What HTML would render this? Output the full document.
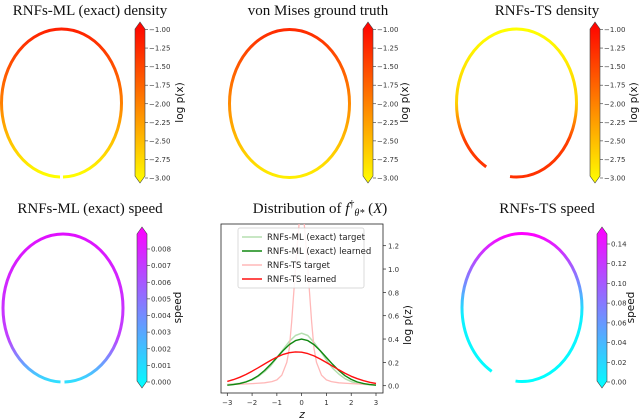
<!DOCTYPE html>
<html><head><meta charset="utf-8"><style>
body{margin:0;background:#fff}
svg{display:block}
.t{font-family:"Liberation Serif",serif;font-size:15px;fill:#111}
.k{font-family:"DejaVu Sans",sans-serif;font-size:7px;fill:#333}
.lab{font-family:"DejaVu Sans",sans-serif;font-size:10.5px;fill:#111}
.lg{font-family:"DejaVu Sans",sans-serif;font-size:8.5px;fill:#222}
</style></head><body>
<svg id="s" width="640" height="418" viewBox="0 0 640 418" xmlns="http://www.w3.org/2000/svg">
<defs>
<linearGradient id="autumn" x1="0" y1="1" x2="0" y2="0"><stop offset="0" stop-color="#ffff00"/><stop offset="1" stop-color="#ff0000"/></linearGradient>
<linearGradient id="cool" x1="0" y1="1" x2="0" y2="0"><stop offset="0" stop-color="#00ffff"/><stop offset="1" stop-color="#ff00ff"/></linearGradient>
<linearGradient id="e1" x1="0" y1="0" x2="0" y2="1"><stop offset="0" stop-color="#ff2000"/><stop offset="0.5" stop-color="#ff8000"/><stop offset="1" stop-color="#ffff00"/></linearGradient>
<linearGradient id="e2" x1="0" y1="0" x2="0" y2="1"><stop offset="0" stop-color="#ff2a00"/><stop offset="0.5" stop-color="#ff8a00"/><stop offset="1" stop-color="#ffee00"/></linearGradient>
<linearGradient id="e3" x1="0" y1="0" x2="0" y2="1"><stop offset="0" stop-color="#ffff00"/><stop offset="0.5" stop-color="#ffd000"/><stop offset="0.75" stop-color="#ff4000"/><stop offset="1" stop-color="#ff3000"/></linearGradient>
<linearGradient id="e4" x1="0" y1="0" x2="0" y2="1"><stop offset="0" stop-color="#e010ff"/><stop offset="0.7" stop-color="#c040ff"/><stop offset="1" stop-color="#30e0ff"/></linearGradient>
<linearGradient id="e5" x1="0" y1="0" x2="0" y2="1"><stop offset="0" stop-color="#ff00ff"/><stop offset="0.35" stop-color="#7090ff"/><stop offset="0.55" stop-color="#10f0ff"/><stop offset="1" stop-color="#00ffff"/></linearGradient>
<clipPath id="ax"><rect x="221" y="224" width="162" height="169"/></clipPath>
</defs>

<text class="t" x="90" y="15" text-anchor="middle">RNFs-ML (exact) density</text>
<text class="t" x="318" y="15" text-anchor="middle">von Mises ground truth</text>
<text class="t" x="547" y="15" text-anchor="middle">RNFs-TS density</text>
<text class="t" x="90" y="213" text-anchor="middle">RNFs-ML (exact) speed</text>
<text class="t" x="320" y="213" text-anchor="middle">Distribution of <tspan font-style="italic">f</tspan><tspan font-size="10" dy="-6">†</tspan><tspan font-size="10" font-style="italic" dy="9">θ*</tspan><tspan dy="-3"> (</tspan><tspan font-style="italic">X</tspan>)</text>
<text class="t" x="547" y="213" text-anchor="middle">RNFs-TS speed</text>

<ellipse cx="61.5" cy="103" rx="60" ry="74" fill="none" stroke="url(#e1)" stroke-width="3" stroke-dasharray="104 3 500"/>
<ellipse cx="289.5" cy="103.5" rx="60" ry="74" fill="none" stroke="url(#e2)" stroke-width="3"/>
<ellipse cx="516.5" cy="103" rx="60" ry="74" fill="none" stroke="url(#e3)" stroke-width="3" stroke-dasharray="112 26 500"/>
<ellipse cx="63" cy="308" rx="60" ry="74" fill="none" stroke="url(#e4)" stroke-width="3" stroke-dasharray="104 4 500"/>
<ellipse cx="522" cy="307.5" rx="60" ry="74" fill="none" stroke="url(#e5)" stroke-width="3" stroke-dasharray="112 26 500"/>

<g id="cbs"></g>
<g id="chart"></g>
</svg>
<script>
const NS="http://www.w3.org/2000/svg";
const svg=document.getElementById('s');
function mk(tag,attrs,parent){const e=document.createElementNS(NS,tag);for(const k in attrs)e.setAttribute(k,attrs[k]);(parent||svg).appendChild(e);return e;}

const densityTicks=["−1.00","−1.25","−1.50","−1.75","−2.00","−2.25","−2.50","−2.75","−3.00"];
const mlSpeedTicks=["0.008","0.007","0.006","0.005","0.004","0.003","0.002","0.001","0.000"];
const tsSpeedTicks=["0.14","0.12","0.10","0.08","0.06","0.04","0.02","0.00"];
const cbg=document.getElementById('cbs');
function colorbar(x,y0,y1,grad,ticks,tickTop,tickBot,label,lx,name){
  const g=mk('g',{},cbg);
  
  
  const w=10;
  mk('polygon',{points:`${x},${y0} ${x+w/2},${y0-7} ${x+w},${y0} ${x+w},${y1} ${x+w/2},${y1+7} ${x},${y1}`,fill:`url(#${grad})`,stroke:'#444','stroke-width':0.6},g);
  const n=ticks.length;
  ticks.forEach((t,i)=>{
    const y=tickTop+(tickBot-tickTop)*i/(n-1);
    mk('line',{x1:x+w,x2:x+w+3,y1:y,y2:y,stroke:'#333','stroke-width':0.6},g);
    const tx=mk('text',{x:x+w+4,y:y+2.5,class:'k'},g);tx.textContent=t;
  });
  const ly=(y0+y1)/2;
  const lt=mk('text',{x:lx,y:ly,class:'lab','text-anchor':'middle',transform:`rotate(-90 ${lx} ${ly})`},g);
  lt.textContent=label;
}
colorbar(135,29,176,'autumn',densityTicks,29.5,178,'log p(x)',183,'colorbar-ml-density');
colorbar(363,29,176,'autumn',densityTicks,29.5,178,'log p(x)',408,'colorbar-von-mises');
colorbar(590,29,176,'autumn',densityTicks,29.5,178,'log p(x)',637,'colorbar-ts-density');
colorbar(137,234,381,'cool',mlSpeedTicks,249,382,'speed',181,'colorbar-ml-speed');
colorbar(597,234,381,'cool',tsSpeedTicks,244,382,'speed',634,'colorbar-ts-speed');

// Line chart data
const zVals=[-3,-2.75,-2.5,-2.25,-2,-1.75,-1.5,-1.25,-1,-0.75,-0.5,-0.25,0,0.25,0.5,0.75,1,1.25,1.5,1.75,2,2.25,2.5,2.75,3];
const mlTarget=[0.01,0.015,0.02,0.035,0.05,0.08,0.12,0.17,0.24,0.31,0.38,0.43,0.45,0.43,0.37,0.3,0.22,0.15,0.1,0.06,0.035,0.02,0.012,0.008,0.005];
const mlLearned=[0.004,0.009,0.018,0.032,0.054,0.086,0.13,0.183,0.242,0.301,0.352,0.387,0.399,0.387,0.352,0.301,0.242,0.183,0.13,0.086,0.054,0.032,0.018,0.009,0.004];
const tsLearned=[0.037,0.052,0.072,0.096,0.124,0.154,0.186,0.217,0.245,0.268,0.283,0.29,0.287,0.275,0.255,0.229,0.199,0.167,0.136,0.107,0.081,0.06,0.043,0.029,0.02];
const tsTargetZ=[-3,-2.5,-2,-1.5,-1.2,-1,-0.8,-0.6,-0.5,-0.4,-0.3,-0.2,-0.1,0,0.1,0.2,0.3,0.4,0.5,0.6,0.8,1,1.2,1.5,2,2.5,3];
const tsTarget=[0.01,0.013,0.018,0.025,0.035,0.05,0.09,0.2,0.32,0.55,0.85,1.15,1.4,1.5,1.4,1.15,0.85,0.55,0.32,0.2,0.09,0.05,0.035,0.025,0.018,0.013,0.01];
const xTicks=[-3,-2,-1,0,1,2,3];
const yTicks=[0,0.2,0.4,0.6,0.8,1.0,1.2];

const ch=document.getElementById('chart');
const X=z=>227.3+(z+3)*(376-227.3)/6;
const Y=v=>385.7-v*(385.7-245.7)/1.2;
const frame=mk('rect',{x:221,y:224,width:162,height:169,fill:'none',stroke:'#222','stroke-width':0.8},ch);


xTicks.forEach(t=>{
  mk('line',{x1:X(t),x2:X(t),y1:393,y2:396,stroke:'#222','stroke-width':0.7},ch);
  const tx=mk('text',{x:X(t),y:405,class:'k','text-anchor':'middle','font-size':'8'},ch);
  
  
  tx.textContent=t<0?'−'+(-t):String(t);
});
yTicks.forEach(t=>{
  mk('line',{x1:383,x2:386,y1:Y(t),y2:Y(t),stroke:'#222','stroke-width':0.7},ch);
  const tx=mk('text',{x:388,y:Y(t)+3,class:'k','font-size':'8'},ch);
  
  
  tx.textContent=t.toFixed(1);
});
const xl=mk('text',{x:302,y:418,class:'lab','font-style':'italic','text-anchor':'middle'},ch);


xl.textContent='z';
const yl=mk('text',{x:411,y:325,class:'lab','text-anchor':'middle',transform:'rotate(-90 411 325)'},ch);


yl.textContent='log p(z)';

function line(xs,ys,color,width,name){
  const d=xs.map((z,i)=>(i?'L':'M')+X(z).toFixed(1)+','+Y(ys[i]).toFixed(1)).join(' ');
  const p=mk('path',{d:d,fill:'none',stroke:color,'stroke-width':width,'clip-path':'url(#ax)','stroke-linejoin':'round'},ch);
  
  
}
line(zVals,mlTarget,'#b5dfb0',1.5,'line-ml-target');
line(tsTargetZ,tsTarget,'#ffb8b8',1.3,'line-ts-target');
line(zVals,mlLearned,'#118811',1.4,'line-ml-learned');
line(zVals,tsLearned,'#ff1010',1.4,'line-ts-learned');

const lg=mk('g',{},ch);


mk('rect',{x:238,y:228,width:126,height:60,rx:2,fill:'#fff','fill-opacity':0.85,stroke:'#ccc','stroke-width':0.7},lg);
const legNames=['RNFs-ML (exact) target','RNFs-ML (exact) learned','RNFs-TS target','RNFs-TS learned'];
const legColors=['#b5dfb0','#118811','#ffb8b8','#ff1010'];
legNames.forEach((n,i)=>{
  const y=237+i*14;
  const e=mk('g',{},lg);
  
  
  mk('line',{x1:242,x2:262,y1:y,y2:y,stroke:legColors[i],'stroke-width':1.5},e);
  const t=mk('text',{x:267,y:y+3,class:'lg'},e);t.textContent=n;
});
</script>
</body></html>
